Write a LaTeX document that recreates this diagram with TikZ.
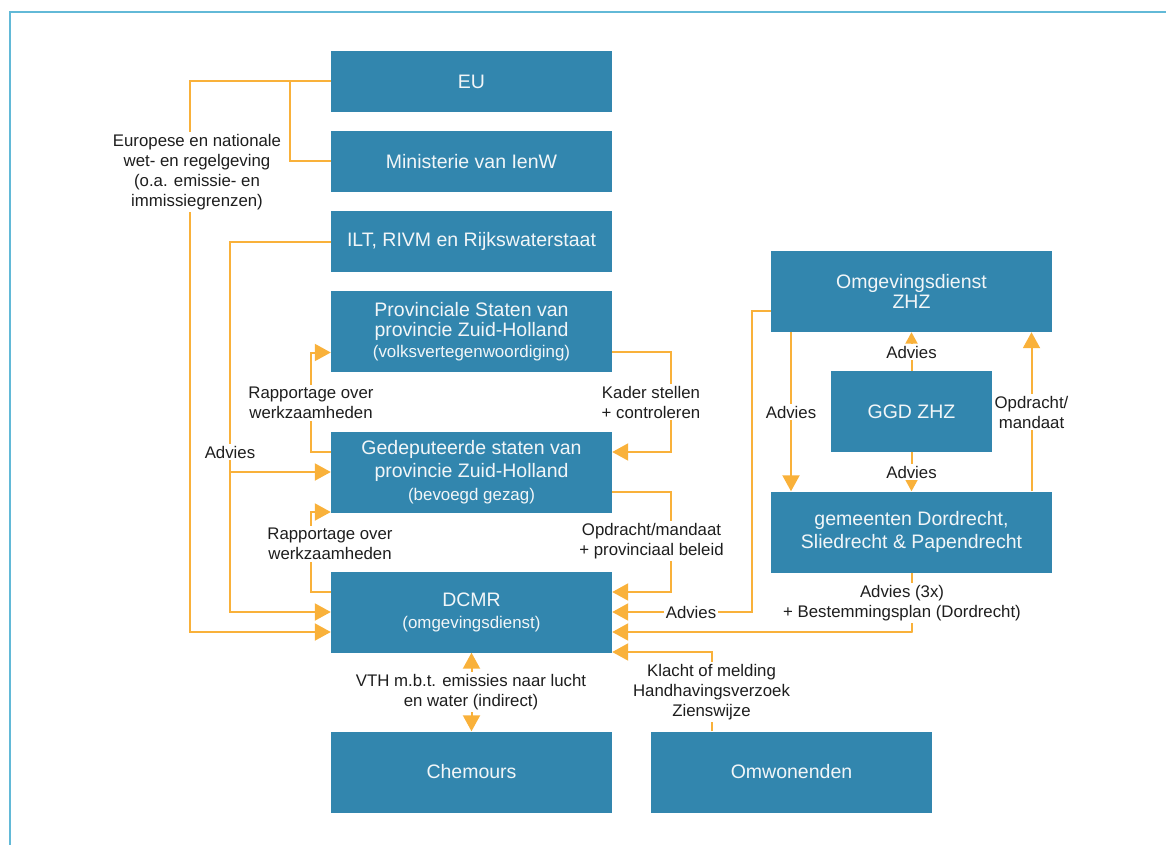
\documentclass[tikz,border=0pt]{standalone}
\usepackage{fontspec}
\setmainfont{Liberation Sans}
\usetikzlibrary{arrows.meta}
\definecolor{boxblue}{HTML}{3286AE}
\definecolor{lineorange}{HTML}{F9B13A}
\definecolor{framecol}{HTML}{62B9D7}
\definecolor{lbltext}{HTML}{1E1E1E}
\definecolor{boxtext}{HTML}{F2F6F8}
\newcommand\bxfont{\fontsize{19.5}{20.5}\selectfont}
\newcommand\subfont{\fontsize{16.9}{20}\selectfont}
\newcommand\lbfont{\fontsize{16.8}{20}\selectfont}
\tikzset{
  orgbox/.style={fill=boxblue, text=boxtext, minimum width=281pt, minimum height=81pt,
    inner sep=0pt, align=center, font=\bxfont},
  conn/.style={draw=lineorange, line width=2pt},
  arrowbig/.style={-{Triangle[length=16pt,width=17pt]}},
  arrowsmall/.style={-{Triangle[length=11.5pt,width=12pt]}},
  arrowboth/.style={{Triangle[length=16pt,width=17pt]}-{Triangle[length=16pt,width=17pt]}},
  lbl/.style={fill=white, inner sep=2pt, align=center, font=\lbfont, text=lbltext},
}
\begin{document}
\begin{tikzpicture}[x=1pt,y=-1pt]
\useasboundingbox (0,0) rectangle (1166,845);
\clip (0,0) rectangle (1166,845);
\draw[framecol, line width=1.5pt] (10,12) rectangle (1200,900);

% boxes
\node[orgbox, minimum height=61pt] (eu) at (471.5,81.5) {EU};
\node[orgbox, minimum height=61pt] (min) at (471.5,161.5) {Ministerie van IenW};
\node[orgbox, minimum height=61pt] (ilt) at (471.5,241.5) {ILT, RIVM en Rijkswaterstaat};
\node[orgbox] (ps) at (471.5,331.5) {Provinciale Staten van\\provincie Zuid-Holland\\{\subfont(volksvertegenwoordiging)}};
\node[orgbox, font=\fontsize{19.5}{23}\selectfont] (gs) at (471.5,472) {Gedeputeerde staten van\\provincie Zuid-Holland\\{\subfont(bevoegd gezag)}};
\node[orgbox, font=\fontsize{19.5}{22}\selectfont] (dcmr) at (471.5,612) {DCMR\\{\subfont(omgevingsdienst)}};
\node[orgbox] (chem) at (471.5,772) {Chemours};
\node[orgbox] (omw) at (791.5,772) {Omwonenden};
\node[orgbox] (omg) at (911.5,291.5) {Omgevingsdienst\\ZHZ};
\node[orgbox, minimum width=161pt] (ggd) at (911.5,411.5) {GGD ZHZ};
\node[orgbox, font=\fontsize{19.5}{23}\selectfont] (gem) at (911.5,532) {gemeenten Dordrecht,\\Sliedrecht \& Papendrecht};

% connectors
\draw[conn, arrowbig] (eu.west) -- ++(-141,0) |- ([yshift=-20pt]dcmr.west);
\draw[conn] (min.west) -| ([xshift=-41pt]eu.west);
\draw[conn, arrowbig] (ilt.west) -- ++(-101,0) |- (dcmr.west);
\draw[conn, arrowbig] ([xshift=-101pt]gs.west) -- (gs.west);
\draw[conn, arrowbig] ([yshift=20pt]gs.west) -- ++(-20,0) |- ([yshift=-21pt]ps.west);
\draw[conn, arrowbig] ([yshift=20pt]dcmr.west) -- ++(-20,0) |- ([yshift=-40pt]gs.west);
\draw[conn, arrowbig] ([yshift=-20.5pt]ps.east) -- ++(59,0) |- ([yshift=20pt]gs.east);
\draw[conn, arrowbig] ([yshift=-20pt]gs.east) -- ++(59,0) |- ([yshift=20pt]dcmr.east);
\draw[conn, arrowbig] ([yshift=-19.5pt]omg.west) -- ++(-19,0) |- (dcmr.east);
\draw[conn, arrowbig] (gem.south) -- ++(0,60) |- ([yshift=-20pt]dcmr.east);
\draw[conn, arrowbig] ([xshift=-80pt]omw.north) |- ([yshift=-40pt]dcmr.east);
\draw[conn, arrowboth] (dcmr.south) -- (chem.north);
\draw[conn, arrowbig] ([xshift=-120.5pt]omg.south) -- ([xshift=-120.5pt]gem.north);
\draw[conn, arrowsmall] (ggd.north) -- (omg.south);
\draw[conn, arrowsmall] (ggd.south) -- (gem.north);
\draw[conn, arrowbig] ([xshift=120pt]gem.north) -- ([xshift=120pt]omg.south);

% labels
\node[lbl] (l1) at (197,172) {Europese en nationale\\wet- en regelgeving\\(o.a. emissie- en\\immissiegrenzen)};
\node[lbl] (l2) at (230,452) {Advies};
\node[lbl] (l3) at (311,403) {Rapportage over\\werkzaamheden};
\node[lbl] (l4) at (330,544) {Rapportage over\\werkzaamheden};
\node[lbl] (l5) at (651,402) {Kader stellen\\+ controleren};
\node[lbl] (l6) at (651.5,541) {Opdracht/mandaat\\+ provinciaal beleid};
\node[lbl] (l7) at (691,612) {Advies};
\node[lbl] (l8) at (902,603) {Advies (3x)\\+ Bestemmingsplan (Dordrecht)};
\node[lbl] (l9) at (711.5,692) {Klacht of melding\\Handhavingsverzoek\\Zienswijze};
\node[lbl] (l10) at (471,692) {VTH m.b.t. emissies naar lucht\\en water (indirect)};
\node[lbl] (l11) at (791,412) {Advies};
\node[lbl] (l12) at (911.5,352) {Advies};
\node[lbl] (l13) at (911.5,472) {Advies};
\node[lbl] (l14) at (1031.5,412) {Opdracht/\\mandaat};
\end{tikzpicture}
\end{document}
